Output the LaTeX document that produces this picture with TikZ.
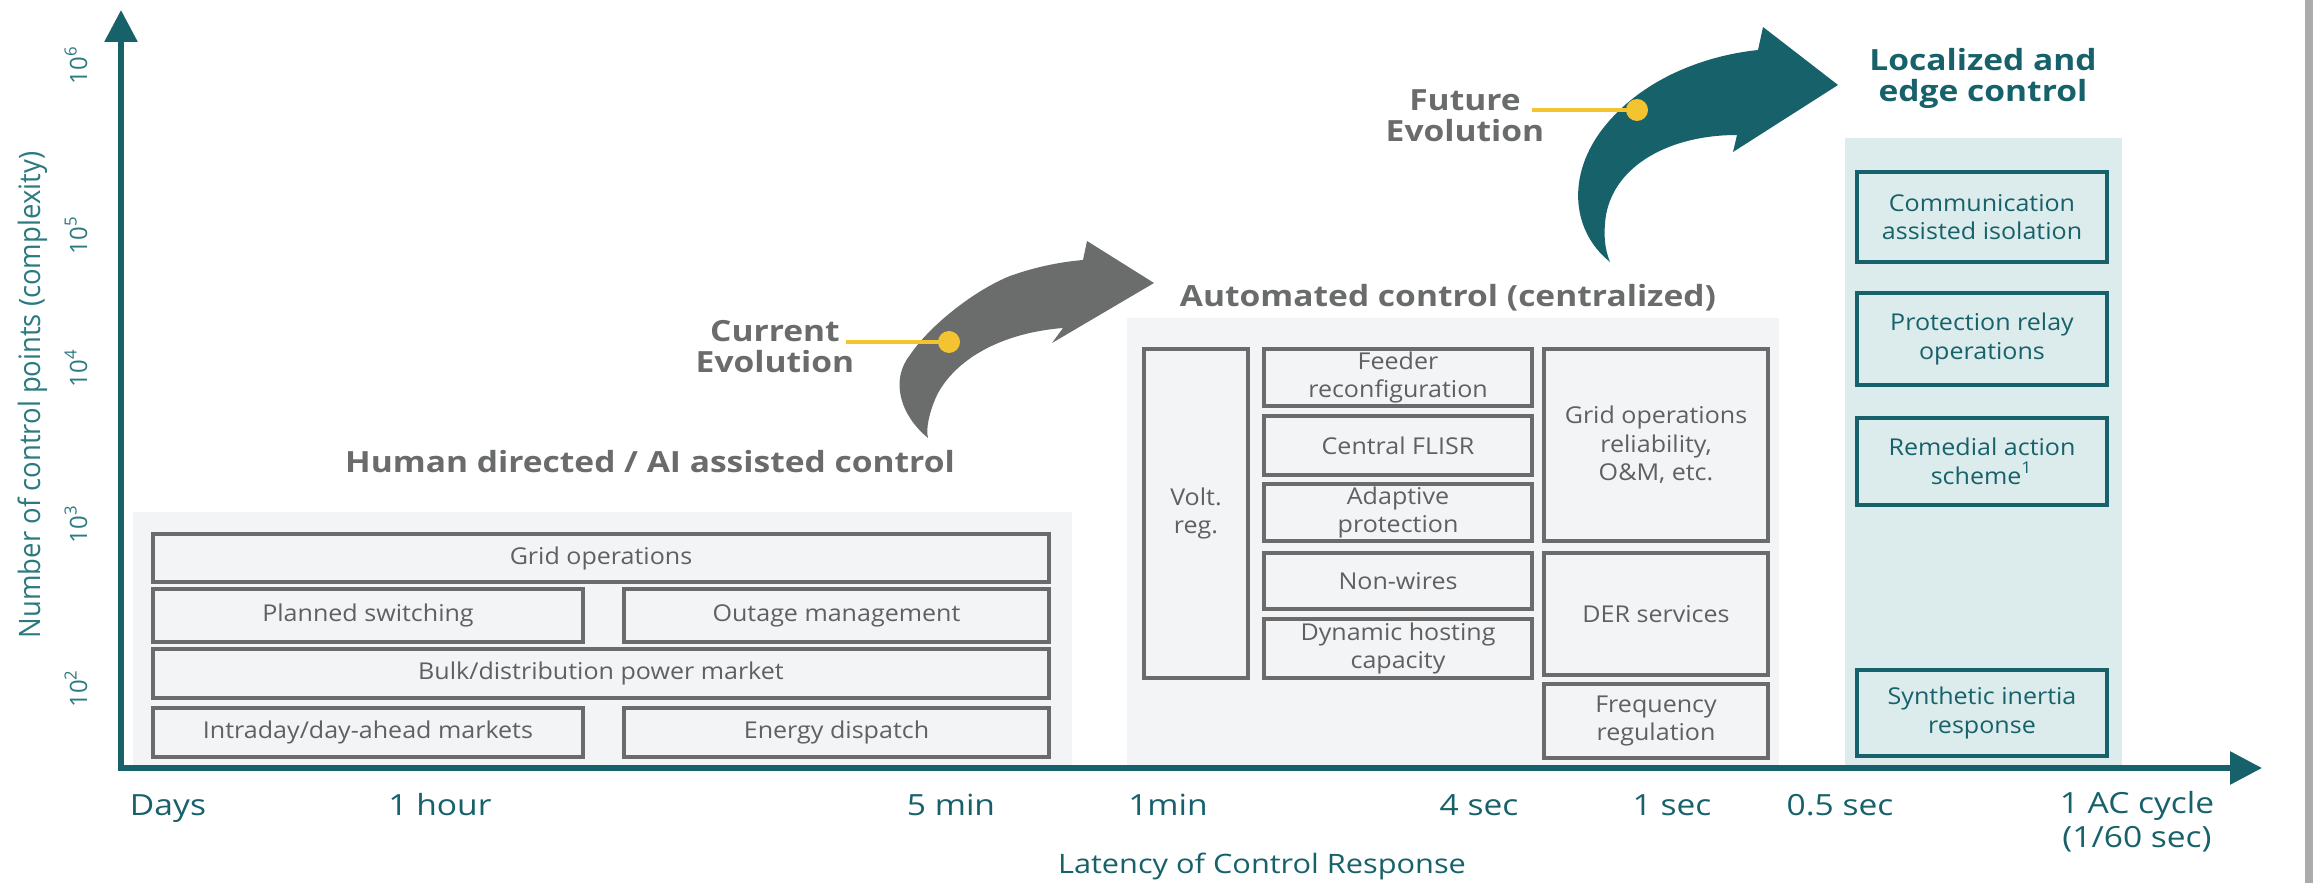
\documentclass[tikz,border=0pt]{standalone}
\usepackage{fontspec}
\setmainfont{Open Sans}
\newfontfamily\boxfam[FakeStretch=1.08]{Open Sans}
\newfontfamily\widefam[FakeStretch=1.15]{Open Sans}
\newfontfamily\narrowfam[FakeStretch=0.93]{Open Sans}
\usepackage{tikz}
\usetikzlibrary{arrows.meta}

\definecolor{axteal}{HTML}{17626A}
\definecolor{lblteal}{HTML}{2A7A80}
\definecolor{panelgray}{HTML}{F3F4F5}
\definecolor{panelteal}{HTML}{DCEBEC}
\definecolor{boxgray}{HTML}{6B6B6B}
\definecolor{txtgray}{HTML}{606060}
\definecolor{headgray}{HTML}{6A6B6B}
\definecolor{arrowgray}{HTML}{6B6D6D}
\definecolor{markyellow}{HTML}{F4C430}

\newcommand{\ctlfont}{\boxfam\fontsize{6.6}{8.1}\selectfont}
\newcommand{\hdfont}{\widefam\bfseries\fontsize{8.3}{8.8}\selectfont}
\newcommand{\tickfont}{\widefam\fontsize{8.3}{9.6}\selectfont}
\newcommand{\ytickfont}{\fontsize{6.8}{8}\selectfont}
\newcommand{\latfont}{\widefam\fontsize{7.6}{8}\selectfont}

\begin{document}
\begin{tikzpicture}[x=0.1mm,y=0.1mm,
    every node/.style={inner sep=0pt, outer sep=0pt},
    gbox/.style={draw=boxgray, line width=0.32mm, fill=panelgray, text=txtgray, font=\ctlfont, align=center},
    tbox/.style={draw=axteal, line width=0.32mm, fill=panelteal, text=axteal, font=\ctlfont, align=center},
    hdlabel/.style={font=\hdfont, text=headgray, align=center},
    ticklabel/.style={font=\tickfont, text=axteal, align=center},
    ylabel/.style={font=\ytickfont, text=lblteal, rotate=90},
    ydot/.style={circle, fill=markyellow, minimum size=2.2mm},
    yline/.style={draw=markyellow, line width=0.4mm},
    axisline/.style={draw=axteal, line width=0.6mm, line join=miter}]
    \useasboundingbox (0,0) rectangle (2313,-883);
    \fill[white] (0,0) rectangle (2313,-883);
    \fill[black!33] (2305,0) rectangle (2313,-883);

    % human directed group
    \fill[panelgray] (133,-512) rectangle (1072,-768);
    \node[gbox, minimum width=89.6mm, minimum height=4.8mm] (gridop) at (601,-558) {Grid operations};
    \node[gbox, minimum width=43mm, minimum height=5.3mm] (planned) at (368,-615.5) {Planned switching};
    \node[gbox, minimum width=42.5mm, minimum height=5.3mm] (outage) at (836.5,-615.5) {Outage management};
    \node[gbox, minimum width=89.6mm, minimum height=4.9mm] (bulk) at (601,-673.5) {Bulk/distribution power market};
    \node[gbox, minimum width=43mm, minimum height=4.9mm] (intraday) at (368,-732.5) {Intraday/day-ahead markets};
    \node[gbox, minimum width=42.5mm, minimum height=4.9mm] (dispatch) at (836.5,-732.5) {Energy dispatch};
    \node[hdlabel] (human) at (650,-462) {Human directed / AI assisted control};

    % automated group
    \fill[panelgray] (1127,-318) rectangle (1779,-768);
    \node[gbox, minimum width=10.4mm, minimum height=32.9mm] (voltreg) at (1196,-513.5) {Volt.\\reg.};
    \node[gbox, minimum width=26.8mm, minimum height=5.7mm] (feeder) at (1398,-377.5) {Feeder\\reconfiguration};
    \node[gbox, minimum width=26.8mm, minimum height=5.9mm] (flisr) at (1398,-445.5) {Central FLISR};
    \node[gbox, minimum width=26.8mm, minimum height=5.7mm] (adaptive) at (1398,-512.5) {Adaptive\\protection};
    \node[gbox, minimum width=26.8mm, minimum height=5.6mm] (nonwires) at (1398,-581) {Non-wires};
    \node[gbox, minimum width=26.8mm, minimum height=5.9mm] (hosting) at (1398,-648.5) {Dynamic hosting\\capacity};
    \node[gbox, minimum width=22.4mm, minimum height=19.2mm] (gridrel) at (1656,-445) {Grid operations\\reliability,\\O\&M, etc.};
    \node[gbox, minimum width=22.4mm, minimum height=12.2mm] (der) at (1656,-614) {DER services};
    \node[gbox, minimum width=22.4mm, minimum height=7.4mm] (freq) at (1656,-721) {Frequency\\regulation};
    \node[hdlabel] (auto) at (1448,-298) {Automated control (centralized)};

    % edge group
    \fill[panelteal] (1845,-138) rectangle (2122,-768);
    \node[tbox, minimum width=25mm, minimum height=9mm] (commiso) at (1982,-217) {Communication\\assisted isolation};
    \node[tbox, minimum width=25mm, minimum height=9.2mm] (relay) at (1982,-339) {Protection relay\\operations};
    \node[tbox, minimum width=25mm, minimum height=8.7mm] (ras) at (1982,-461.5) {Remedial action\\scheme\textsuperscript{1}};
    \node[tbox, minimum width=25mm, minimum height=8.6mm] (inertia) at (1982,-713) {Synthetic inertia\\response};
    \node[hdlabel, text=axteal] (edge) at (1983,-78) {Localized and\\edge control};

    % evolution arrows
    \fill[arrowgray] (928,-438) .. controls (900,-415) and (890,-380) .. (910,-355)
        .. controls (930,-325) and (975,-290) .. (1010,-276)
        .. controls (1035,-267) and (1060,-262) .. (1083,-260)
        -- (1087,-241) -- (1154,-283) -- (1052,-343) -- (1063,-328)
        .. controls (1000,-333) and (955,-360) .. (937,-395)
        .. controls (928,-415) and (926,-430) .. (928,-438) -- cycle;
    \fill[axteal] (1610,-262) .. controls (1570,-230) and (1565,-170) .. (1610,-120)
        .. controls (1650,-75) and (1710,-55) .. (1758,-50)
        -- (1763,-27) -- (1838,-85) -- (1733,-152) -- (1737,-135)
        .. controls (1670,-135) and (1615,-165) .. (1606,-215)
        .. controls (1603,-235) and (1605,-250) .. (1610,-262) -- cycle;

    \node[hdlabel] (curlbl) at (775,-347) {Current\\Evolution};
    \coordinate (curend) at (846,-342);
    \coordinate (curpin) at (949,-342);
    \draw[yline] (curend) -- (curpin);
    \node[ydot] (curdot) at (curpin) {};

    \node[hdlabel] (futlbl) at (1465,-116) {Future\\Evolution};
    \coordinate (futend) at (1532,-110);
    \coordinate (futpin) at (1637,-110);
    \draw[yline] (futend) -- (futpin);
    \node[ydot] (futdot) at (futpin) {};

    % axes
    \coordinate (origin) at (121,-768);
    \coordinate (ytip) at (121,-10);
    \coordinate (xtip) at (2262,-768);
    \draw[axisline, {Triangle[length=3.2mm,width=3.2mm]}-{Triangle[length=3.2mm,width=3.2mm]}]
        (ytip) -- (origin) -- (xtip);

    \node[ylabel] (y6) at (76,-65) {10\textsuperscript{6}};
    \node[ylabel] (y5) at (76,-235) {10\textsuperscript{5}};
    \node[ylabel] (y4) at (76,-368) {10\textsuperscript{4}};
    \node[ylabel] (y3) at (76,-524) {10\textsuperscript{3}};
    \node[ylabel] (y2) at (76,-688) {10\textsuperscript{2}};
    \node[ylabel, font=\narrowfam\fontsize{8.4}{9}\selectfont] (ytitle) at (33,-395) {Number of control points (complexity)};

    \node[ticklabel, anchor=base] (tdays) at (168,-815) {Days};
    \node[ticklabel, anchor=base] (thour) at (440,-815) {1 hour};
    \node[ticklabel, anchor=base] (tfive) at (951,-815) {5 min};
    \node[ticklabel, anchor=base] (tmin) at (1168,-815) {1min};
    \node[ticklabel, anchor=base] (tfour) at (1479,-815) {4 sec};
    \node[ticklabel, anchor=base] (tsec) at (1672,-815) {1 sec};
    \node[ticklabel, anchor=base] (thalf) at (1840,-815) {0.5 sec};
    \node[ticklabel] (tcycle) at (2137,-822) {1 AC cycle\\(1/60 sec)};
    \node[ticklabel, font=\latfont] (xtitle) at (1262,-866) {Latency of Control Response};
\end{tikzpicture}
\end{document}
